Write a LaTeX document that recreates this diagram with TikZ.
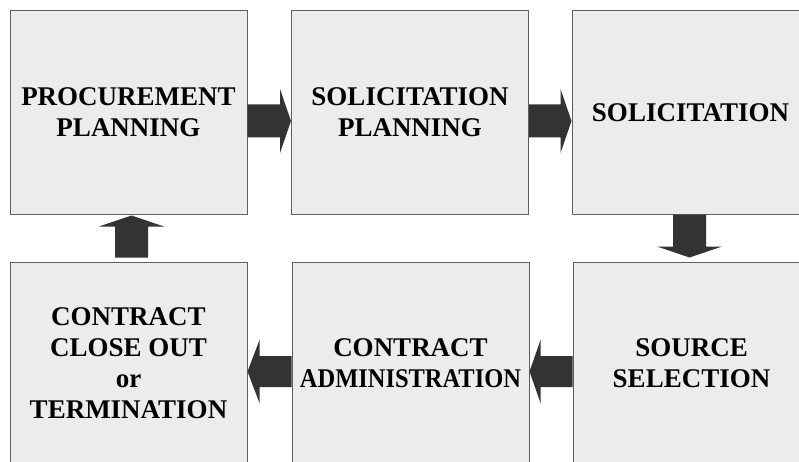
\documentclass[tikz,border=0pt]{standalone}
\usepackage{fontspec}
\setmainfont{Liberation Serif}
\usetikzlibrary{calc}
\definecolor{boxfill}{RGB}{236,236,236}
\definecolor{boxline}{RGB}{95,95,95}
\definecolor{arrowfill}{RGB}{51,51,51}
\begin{document}
\begin{tikzpicture}[x=1pt,y=-1pt,
  stage/.style={draw=boxline,fill=boxfill,line width=1pt,minimum width=237pt,minimum height=203pt,inner sep=0pt,align=center,font=\fontsize{27}{31}\selectfont\bfseries},
  blockarrow/.style={fill=arrowfill,draw=none}]
\useasboundingbox (0,0) rectangle (799,462);
\clip (0,0) rectangle (799,462);
\fill[white] (0,0) rectangle (799,462);
\node[stage] (b1) at (128.5,112.5) {PROCUREMENT\\PLANNING};
\node[stage] (b2) at (410,112.5) {SOLICITATION\\PLANNING};
\node[stage] (b3) at (690.5,112.5) {SOLICITATION};
\node[stage] (b4) at (128.5,363.5) {CONTRACT\\CLOSE OUT\\or\\TERMINATION};
\node[stage] (b5) at (410.5,363.5) {CONTRACT\\\scalebox{0.906}[1]{ADMINISTRATION}};
\node[stage] (b6) at (691.5,363.5) {SOURCE\\SELECTION};
% right arrow b1 -> b2
\coordinate (r1s) at ($(b1.east)+(0,8.5)$);
\coordinate (r1e) at ($(b2.west)+(0,8.5)$);
\fill[blockarrow] ($(r1s)+(0,-16.5)$) -- ($(r1e)+(-11,-16.5)$) -- ($(r1e)+(-11,-32)$) -- (r1e) -- ($(r1e)+(-11,32)$) -- ($(r1e)+(-11,16.5)$) -- ($(r1s)+(0,16.5)$) -- cycle;
% right arrow b2 -> b3
\coordinate (r2s) at ($(b2.east)+(0,8.5)$);
\coordinate (r2e) at ($(b3.west)+(0,8.5)$);
\fill[blockarrow] ($(r2s)+(0,-16.5)$) -- ($(r2e)+(-11,-16.5)$) -- ($(r2e)+(-11,-32)$) -- (r2e) -- ($(r2e)+(-11,32)$) -- ($(r2e)+(-11,16.5)$) -- ($(r2s)+(0,16.5)$) -- cycle;
% down arrow b3 -> b6
\coordinate (d1s) at ($(b3.south)+(-1,0)$);
\coordinate (d1e) at ($(b6.north)+(-2,-4)$);
\fill[blockarrow] ($(d1s)+(-16.5,0)$) -- ($(d1e)+(-16.5,-11)$) -- ($(d1e)+(-32.5,-11)$) -- (d1e) -- ($(d1e)+(32.5,-11)$) -- ($(d1e)+(16.5,-11)$) -- ($(d1s)+(16.5,0)$) -- cycle;
% left arrow b6 -> b5
\coordinate (l1s) at ($(b6.west)+(0,8)$);
\coordinate (l1e) at ($(b5.east)+(0,8)$);
\fill[blockarrow] ($(l1s)+(0,-15.5)$) -- ($(l1e)+(11,-15.5)$) -- ($(l1e)+(11,-31.5)$) -- (l1e) -- ($(l1e)+(11,31.5)$) -- ($(l1e)+(11,15.5)$) -- ($(l1s)+(0,15.5)$) -- cycle;
% left arrow b5 -> b4
\coordinate (l2s) at ($(b5.west)+(0,8)$);
\coordinate (l2e) at ($(b4.east)+(0,8)$);
\fill[blockarrow] ($(l2s)+(0,-15.5)$) -- ($(l2e)+(12,-15.5)$) -- ($(l2e)+(12,-31.5)$) -- (l2e) -- ($(l2e)+(12,31.5)$) -- ($(l2e)+(12,15.5)$) -- ($(l2s)+(0,15.5)$) -- cycle;
% up arrow b4 -> b1
\coordinate (u1s) at ($(b4.north)+(3,-4)$);
\coordinate (u1e) at ($(b1.south)+(3,1)$);
\fill[blockarrow] ($(u1s)+(-16.5,0)$) -- ($(u1e)+(-16.5,11)$) -- ($(u1e)+(-32.5,11)$) -- (u1e) -- ($(u1e)+(32.5,11)$) -- ($(u1e)+(16.5,11)$) -- ($(u1s)+(16.5,0)$) -- cycle;
\end{tikzpicture}
\end{document}
